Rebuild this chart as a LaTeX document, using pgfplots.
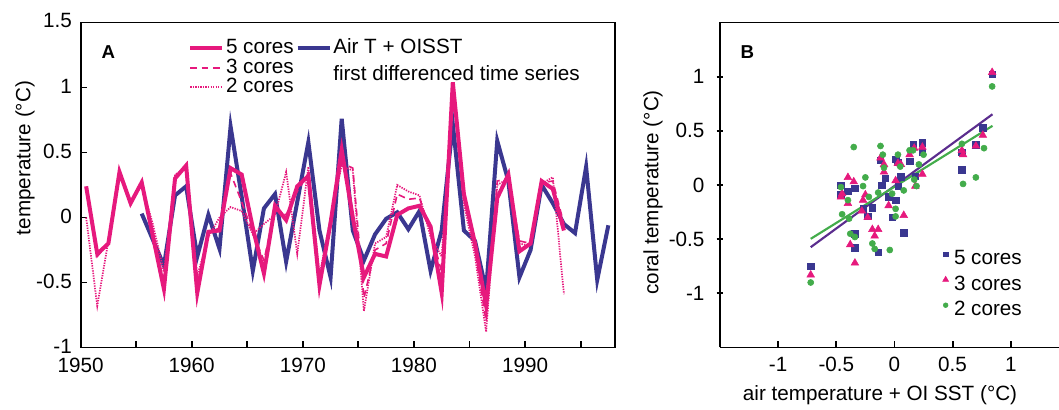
\documentclass[border=0pt]{standalone}
\usepackage{fontspec}
\setmainfont{Liberation Sans}
\usepackage{pgfplots}
\pgfplotsset{compat=1.18}
\usepackage{pgfplotstable}

\definecolor{coralpink}{HTML}{E6197D}
\definecolor{navyblue}{HTML}{3A3790}
\definecolor{fitpurple}{HTML}{5B2D8E}
\definecolor{coregreen}{HTML}{43AC4B}

% ---------- panel A: first-differenced annual series ----------
\pgfplotstableread{
year t
1950.5 0.24
1951.5 -0.28
1952.5 -0.20
1953.5 0.35
1954.5 0.11
1955.5 0.27
1956.5 -0.14
1957.5 -0.55
1958.5 0.30
1959.5 0.40
1960.5 -0.58
1961.5 -0.11
1962.5 -0.10
1963.5 0.38
1964.5 0.33
1965.5 -0.08
1966.5 -0.43
1967.5 0.09
1968.5 -0.02
1969.5 0.24
1970.5 0.32
1971.5 -0.52
1972.5 -0.04
1973.5 0.52
1974.5 0.00
1975.5 -0.46
1976.5 -0.28
1977.5 -0.30
1978.5 0.02
1979.5 0.07
1980.5 0.09
1981.5 -0.07
1982.5 -0.58
1983.5 1.04
1984.5 0.18
1985.5 -0.20
1986.5 -0.68
1987.5 0.15
1988.5 0.33
1989.5 -0.26
1990.5 -0.20
1991.5 0.28
1992.5 0.22
1993.5 -0.10
}\fivecores

\pgfplotstableread{
year t
1950.5 0.22
1951.5 -0.30
1952.5 -0.20
1953.5 0.34
1954.5 0.11
1955.5 0.26
1956.5 -0.12
1957.5 -0.50
1958.5 0.32
1959.5 0.38
1960.5 -0.52
1961.5 -0.12
1962.5 -0.08
1963.5 0.34
1964.5 0.12
1965.5 -0.12
1966.5 -0.33
1967.5 0.06
1968.5 0.02
1969.5 0.20
1970.5 0.34
1971.5 -0.48
1972.5 -0.02
1973.5 0.42
1974.5 0.38
1975.5 -0.62
1976.5 -0.25
1977.5 -0.20
1978.5 0.18
1979.5 0.14
1980.5 0.15
1981.5 -0.10
1982.5 -0.42
1983.5 1.00
1984.5 0.15
1985.5 -0.25
1986.5 -0.80
1987.5 0.28
1988.5 0.30
1989.5 -0.18
1990.5 -0.20
1991.5 0.27
1992.5 0.28
1993.5 -0.05
}\threecores

\pgfplotstableread{
year t
1950.5 0.00
1951.5 -0.68
1952.5 -0.18
1953.5 0.33
1954.5 0.12
1955.5 0.25
1956.5 -0.05
1957.5 -0.42
1958.5 0.33
1959.5 0.38
1960.5 -0.45
1961.5 -0.15
1962.5 0.00
1963.5 0.08
1964.5 0.05
1965.5 -0.13
1966.5 -0.05
1967.5 0.02
1968.5 0.35
1969.5 -0.28
1970.5 0.39
1971.5 -0.45
1972.5 0.00
1973.5 0.40
1974.5 0.36
1975.5 -0.72
1976.5 -0.20
1977.5 -0.15
1978.5 0.25
1979.5 0.20
1980.5 0.17
1981.5 -0.15
1982.5 -0.30
1983.5 0.98
1984.5 0.10
1985.5 -0.30
1986.5 -0.88
1987.5 0.25
1988.5 0.30
1989.5 -0.20
1990.5 -0.22
1991.5 0.26
1992.5 0.31
1993.5 -0.59
}\twocores

\pgfplotstableread{
year t
1955.5 0.03
1956.5 -0.17
1957.5 -0.37
1958.5 0.17
1959.5 0.24
1960.5 -0.30
1961.5 0.02
1962.5 -0.24
1963.5 0.70
1964.5 0.16
1965.5 -0.41
1966.5 0.07
1967.5 0.18
1968.5 -0.34
1969.5 0.12
1970.5 0.58
1971.5 -0.10
1972.5 -0.46
1973.5 0.76
1974.5 -0.10
1975.5 -0.33
1976.5 -0.13
1977.5 -0.01
1978.5 0.04
1979.5 -0.09
1980.5 0.05
1981.5 -0.41
1982.5 -0.10
1983.5 0.72
1984.5 -0.10
1985.5 -0.18
1986.5 -0.56
1987.5 0.59
1988.5 0.28
1989.5 -0.46
1990.5 -0.25
1991.5 0.25
1992.5 0.11
1993.5 -0.05
1994.5 -0.12
1995.5 0.39
1996.5 -0.48
1997.5 -0.06
}\airsst

% ---------- panel B: coral vs. instrumental anomalies ----------
\pgfplotstableread{
x y
-0.72 -0.75
-0.46 -0.09
-0.46 0.00
-0.40 -0.06
-0.34 -0.03
-0.34 -0.45
-0.34 -0.58
-0.27 -0.22
-0.23 -0.29
-0.19 -0.21
-0.14 -0.62
-0.12 0.23
-0.11 0.00
-0.08 0.06
-0.05 -0.11
-0.02 -0.30
0.01 -0.14
0.01 0.24
0.03 0.21
0.035 -0.01
0.055 0.075
0.08 -0.44
0.13 0.22
0.16 0.37
0.18 0.08
0.24 0.30
0.24 0.39
0.58 0.14
0.58 0.30
0.70 0.37
0.76 0.53
0.84 1.02
}\scatfive

\pgfplotstableread{
x y
-0.72 -0.83
-0.46 -0.11
-0.45 -0.08
-0.40 0.07
-0.40 -0.17
-0.38 -0.55
-0.35 0.03
-0.34 -0.72
-0.27 -0.14
-0.25 -0.09
-0.28 -0.24
-0.23 -0.30
-0.19 -0.41
-0.14 -0.41
-0.17 -0.47
-0.12 0.25
-0.09 0.19
-0.09 0.12
-0.05 -0.19
0.01 0.04
0.03 0.20
0.055 0.19
0.08 -0.28
0.13 0.28
0.17 0.34
0.18 -0.01
0.24 0.35
0.24 0.10
0.58 0.32
0.59 0.28
0.70 0.36
0.76 0.46
0.84 1.04
}\scatthree

\pgfplotstableread{
x y
-0.72 -0.90
-0.46 -0.02
-0.45 -0.27
-0.40 -0.14
-0.39 -0.31
-0.38 -0.45
-0.35 0.35
-0.34 -0.48
-0.27 -0.01
-0.25 0.07
-0.22 -0.11
-0.19 -0.54
-0.17 -0.59
-0.14 -0.07
-0.12 0.36
-0.10 0.28
-0.09 0.16
-0.04 -0.60
-0.02 -0.08
0.01 -0.22
0.01 -0.29
0.03 0.28
0.05 0.17
0.08 -0.05
0.13 0.32
0.16 0.32
0.17 0.05
0.19 -0.01
0.21 0.19
0.25 0.28
0.58 0.38
0.59 0.01
0.70 0.07
0.77 0.34
0.84 0.91
}\scattwo

\newcommand{\labelfont}{\fontsize{15.5}{18}\selectfont}

\pgfplotsset{
  panel/.style={
    scale only axis,
    anchor=south west,
    tick align=inside,
    xtick pos=bottom, ytick pos=left,
    major tick length=5pt, minor tick length=5pt,
    axis line style={line width=1.4pt},
    every tick/.style={black, line width=1.4pt},
    every minor tick/.style={black, line width=1.4pt},
    tick label style={font=\labelfont, inner sep=0.5pt},
    label style={font=\labelfont},
  },
}

\begin{document}
\begin{tikzpicture}
\useasboundingbox (0pt,0pt) rectangle (794.25pt,307.5pt);

% ---------------- A ----------------
\begin{axis}[panel,
  at={(60.45pt,46.875pt)}, width=400.8pt, height=243.75pt,
  xmin=1950, xmax=1998.1, ymin=-1, ymax=1.5,
  xtick={1950,1960,1970,1980,1990},
  xticklabels={1950,1960,1970,1980,1990},
  minor xtick={1955,1965,1975,1985,1995},
  ytick={-1,-0.5,0,0.5,1,1.5},
  yticklabels={-1,-0.5,0,0.5,1,1.5},
  xticklabel style={yshift=-7.2pt},
  yticklabel style={xshift=-5.9pt, yshift=1.2pt},
  ylabel={temperature (°C)},
  ylabel style={at={(axis description cs:-0.104,0.583)}, anchor=center, font=\labelfont},
  legend columns=2,
  legend cell align=left,
  legend style={draw=none, fill=none, inner sep=0pt, font=\labelfont,
    at={(axis description cs:0.201,0.95)}, anchor=north west,
    nodes={inner sep=0pt, text height=11pt, text depth=3pt},
    row sep=0.6pt, column sep=1.3pt},
  legend image code/.code={\draw[#1] (0pt,0pt) -- (24pt,0pt);},
]
\addplot[navyblue, line width=3pt, forget plot] table[x=year,y=t]{\airsst};
\addplot[coralpink, line width=1.3pt, dash pattern=on 1pt off 0.9pt, forget plot] table[x=year,y=t]{\twocores};
\addplot[coralpink, line width=1.2pt, dash pattern=on 5pt off 3.5pt, forget plot] table[x=year,y=t]{\threecores};
\addplot[coralpink, line width=3pt, forget plot] table[x=year,y=t]{\fivecores};

\addlegendimage{coralpink, line width=3pt}
\addlegendentry{5 cores\hspace{16pt}}
\addlegendimage{navyblue, line width=3pt}
\addlegendentry{Air T + OISST}
\addlegendimage{coralpink, line width=1.2pt, dash pattern=on 5pt off 3.5pt}
\addlegendentry{3 cores}
\addlegendimage{empty legend}
\addlegendentry{\raisebox{-5.5pt}{first differenced time series}}
\addlegendimage{coralpink, line width=1.3pt, dash pattern=on 1pt off 0.9pt}
\addlegendentry{2 cores}

\node[font=\fontsize{14}{16}\selectfont\bfseries] at (axis description cs:0.052,0.909) {A};
\end{axis}

% ---------------- B ----------------
\begin{axis}[panel,
  at={(540pt,46.875pt)}, width=254.25pt, height=243.75pt,
  axis x line=box, axis y line=left,
  x axis line style={-}, y axis line style={-},
  xmin=-1.5, xmax=1.415, ymin=-1.5, ymax=1.5,
  xtick={-1,-0.5,0,0.5,1},
  xticklabels={-1,-0.5,0,0.5,1},
  ytick={-1,-0.5,0,0.5,1},
  yticklabels={-1,-0.5,0,0.5,1},
  xticklabel style={yshift=-6.8pt},
  yticklabel style={xshift=-8.5pt},
  ylabel={coral temperature (°C)},
  ylabel style={at={(axis description cs:-0.1976,0.477)}, anchor=center, font=\labelfont},
  xlabel={air temperature + OI SST (°C)},
  xlabel style={at={(axis description cs:0.472,-0.146)}, anchor=center, font=\labelfont},
  legend cell align=left,
  legend style={draw=none, fill=none, inner sep=0pt, font=\labelfont,
    at={(axis description cs:0.656,0.30)}, anchor=north west,
    nodes={inner sep=0pt, text height=11pt, text depth=3pt},
    row sep=5.1pt, column sep=4pt},
  legend image code/.code={\draw[#1] plot coordinates {(3pt,4pt)};},
]
\addplot[only marks, mark=square*, mark size=2.4pt, navyblue, forget plot] table[x=x,y=y]{\scatfive};
\addplot[only marks, mark=triangle*, mark size=3.3pt, coralpink, forget plot] table[x=x,y=y]{\scatthree};
\addplot[only marks, mark=*, mark size=2.3pt, coregreen, forget plot] table[x=x,y=y]{\scattwo};
\addplot[fitpurple, line width=1.6pt, forget plot] coordinates {(-0.72,-0.574) (0.843,0.653)};
\addplot[coregreen, line width=1.6pt, forget plot] coordinates {(-0.72,-0.497) (0.843,0.546)};

\addlegendimage{only marks, mark=square*, mark size=1.6pt, navyblue}
\addlegendentry{5 cores}
\addlegendimage{only marks, mark=triangle*, mark size=2.6pt, coralpink}
\addlegendentry{3 cores}
\addlegendimage{only marks, mark=*, mark size=1.8pt, coregreen}
\addlegendentry{2 cores}

\node[font=\fontsize{14}{16}\selectfont\bfseries] at (axis description cs:0.081,0.910) {B};
\end{axis}
\end{tikzpicture}
\end{document}
